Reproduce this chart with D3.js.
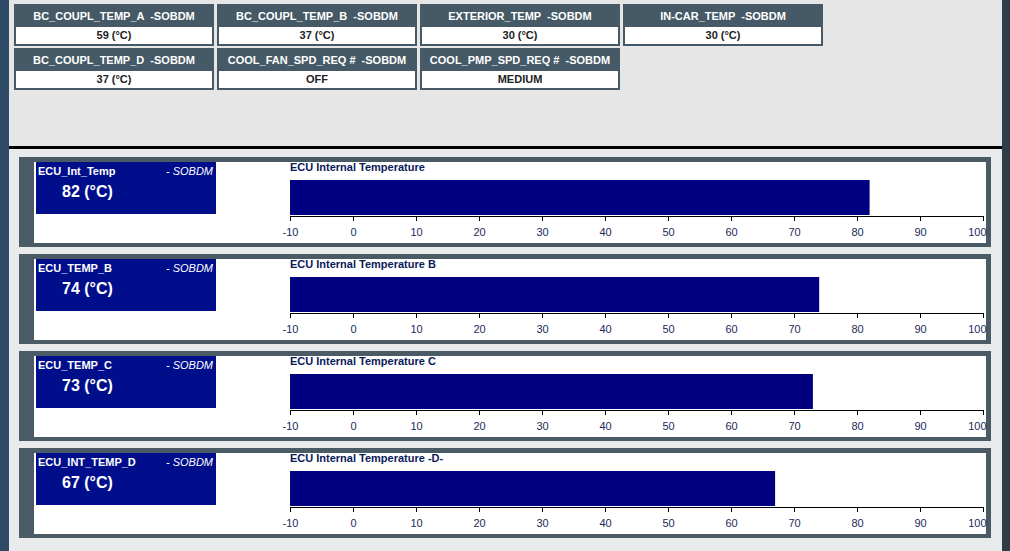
<!DOCTYPE html>
<html><head><meta charset="utf-8">
<script src="https://cdn.jsdelivr.net/npm/d3@7"></script>
<style>body{margin:0;background:#e4e6e8;font-family:Arial,"Liberation Sans",sans-serif} text{white-space:pre}</style>
</head><body><svg id="c" width="1010" height="551"></svg>
<script>
const tileNames = ["BC_COUPL_TEMP_A  -SOBDM","BC_COUPL_TEMP_B  -SOBDM","EXTERIOR_TEMP  -SOBDM","IN-CAR_TEMP  -SOBDM",
                   "BC_COUPL_TEMP_D  -SOBDM","COOL_FAN_SPD_REQ #  -SOBDM","COOL_PMP_SPD_REQ #  -SOBDM"];
const tileValues = ["59 (°C)","37 (°C)","30 (°C)","30 (°C)","37 (°C)","OFF","MEDIUM"];
const gaugeNames = ["ECU_Int_Temp","ECU_TEMP_B","ECU_TEMP_C","ECU_INT_TEMP_D"];
const gaugeTitles = ["ECU Internal Temperature","ECU Internal Temperature B","ECU Internal Temperature C","ECU Internal Temperature -D-"];
const gaugeValues = [82, 74, 73, 67];
const ticks = [-10,0,10,20,30,40,50,60,70,80,90,100];

const svg = d3.select("#c");
svg.append("rect").attr("width",1010).attr("height",551).attr("fill","#e4e6e8");
svg.append("rect").attr("x",0).attr("y",0).attr("width",9).attr("height",551).attr("fill","#2f4a66");
svg.append("rect").attr("x",1002).attr("y",0).attr("width",8).attr("height",551).attr("fill","#2f3d48");
svg.append("rect").attr("x",9).attr("y",0).attr("width",993).attr("height",146).attr("fill","#e6e6e6");
svg.append("rect").attr("x",9).attr("y",146).attr("width",993).attr("height",3).attr("fill","#000");
svg.append("rect").attr("x",9).attr("y",149).attr("width",993).attr("height",402).attr("fill","#e8eaec");

const tile = svg.selectAll("g.tile").data(tileNames).join("g").attr("class","tile")
  .attr("transform",(d,i)=>`translate(${14+(i%4)*203},${4+Math.floor(i/4)*44})`);
tile.append("rect").attr("width",200).attr("height",42).attr("fill","#455a66");
tile.append("rect").attr("x",2).attr("y",23).attr("width",196).attr("height",17).attr("fill","#fff");
tile.append("text").attr("x",100).attr("y",16).attr("text-anchor","middle").attr("fill","#fff")
  .attr("font-size",11).attr("font-weight","bold").text(d=>d);
tile.append("text").attr("x",100).attr("y",35).attr("text-anchor","middle").attr("fill","#222")
  .attr("font-size",11).attr("font-weight","bold").text((d,i)=>tileValues[i]);

const x = d3.scaleLinear().domain([-10,100]).range([290,983]);
gaugeNames.forEach((name,i)=>{
  const g = svg.append("g").attr("transform",`translate(0,${157+i*97})`);
  g.append("rect").attr("x",19).attr("width",972).attr("height",90).attr("fill","#4a5b66");
  g.append("rect").attr("x",34).attr("y",5).attr("width",952).attr("height",81).attr("fill","#fff");
  g.append("rect").attr("x",36).attr("y",5).attr("width",180).attr("height",52).attr("fill","#000e8c");
  g.append("text").attr("x",38).attr("y",18).attr("fill","#fff").attr("font-size",11).attr("font-weight","bold").text(name);
  g.append("text").attr("x",213).attr("y",18).attr("fill","#fff").attr("font-size",11).attr("font-style","italic")
    .attr("text-anchor","end").text("- SOBDM");
  g.append("text").attr("x",62).attr("y",40).attr("fill","#fff").attr("font-size",16).attr("font-weight","bold")
    .text(gaugeValues[i]+" (°C)");
  g.append("text").attr("x",290).attr("y",14).attr("fill","#0a1a5a").attr("font-size",11).attr("font-weight","bold")
    .text(gaugeTitles[i]);
  g.append("rect").attr("x",x(-10)).attr("y",23).attr("width",x(gaugeValues[i])-x(-10)).attr("height",35).attr("fill","#000080");
  const ax = g.append("g").attr("transform","translate(0,59)")
    .call(d3.axisBottom(x).tickValues(ticks).tickFormat(d=>String(d)).tickSizeOuter(0).tickSize(5).tickPadding(7));
  ax.select(".domain").attr("stroke","#000");
  ax.selectAll("text").attr("fill","#1a2a5a").attr("font-size",11).attr("font-family","Arial,sans-serif")
    .attr("text-anchor",d=>d===100?"end":"middle").attr("dx",d=>d===100?3:0);
});
</script></body></html>
